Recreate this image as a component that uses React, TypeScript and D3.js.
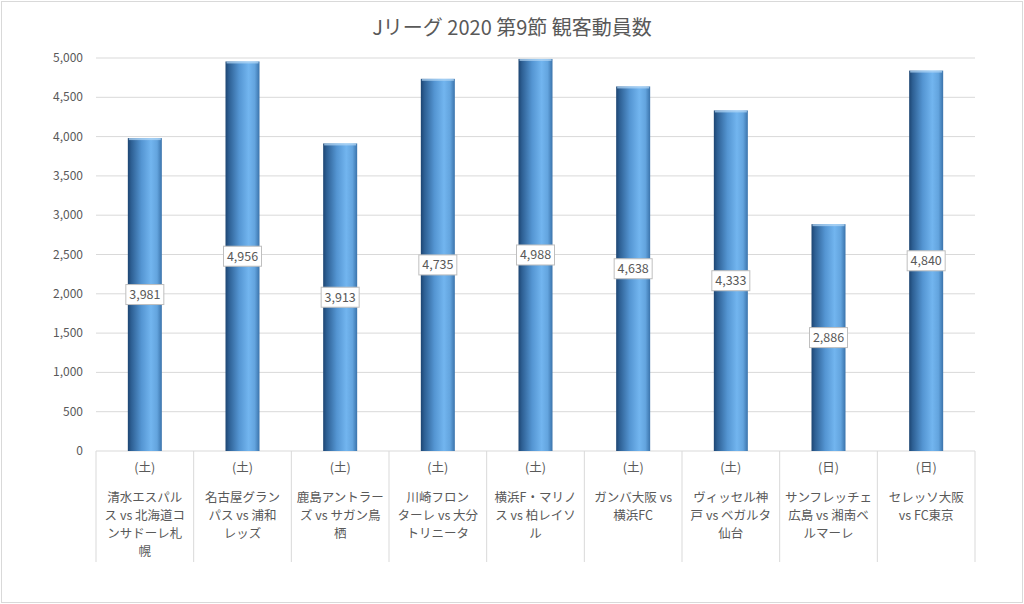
import React, { useRef, useEffect } from 'react';
import * as d3 from 'd3';

const title = 'Jリーグ 2020 第9節 観客動員数';
const days = ['(土)', '(土)', '(土)', '(土)', '(土)', '(土)', '(土)', '(日)', '(日)'];
const matchLines = [
    ['清水エスパル', 'ス vs 北海道コ', 'ンサドーレ札', '幌'],
    ['名古屋グラン', 'パス vs 浦和', 'レッズ'],
    ['鹿島アントラー', 'ズ vs サガン鳥', '栖'],
    ['川崎フロン', 'ターレ vs 大分', 'トリニータ'],
    ['横浜F・マリノ', 'ス vs 柏レイソ', 'ル'],
    ['ガンバ大阪 vs', '横浜FC'],
    ['ヴィッセル神', '戸 vs ベガルタ', '仙台'],
    ['サンフレッチェ', '広島 vs 湘南ベ', 'ルマーレ'],
    ['セレッソ大阪', 'vs FC東京'],
];
const attendance = [3981, 4956, 3913, 4735, 4988, 4638, 4333, 2886, 4840];
const yTicks = [0, 500, 1000, 1500, 2000, 2500, 3000, 3500, 4000, 4500, 5000];

export default function App() {
    const svg_ref = useRef(null);

    useEffect(() => {
        const width = 1024;
        const height = 604;
        const margin = { left: 96, right: 49, top: 58, bottom: 153 };
        const font = '"Noto Sans CJK JP", "Noto Sans", sans-serif';
        const text_color = '#595959';

        const svg = d3.select(svg_ref.current);
        svg.selectAll('*').remove();

        const defs = svg.append('defs');
        const grad = defs.append('linearGradient').attr('id', 'bar_grad').attr('x1', '0%').attr('x2', '100%');
        [
            ['0%', '#1d4572'],
            ['10%', '#2d5f93'],
            ['40%', '#5495d2'],
            ['68%', '#72b5ef'],
            ['86%', '#63a4de'],
            ['100%', '#3a73ab'],
        ].forEach(([o, c]) => grad.append('stop').attr('offset', o).attr('stop-color', c));

        svg.append('rect')
            .attr('x', 1.5).attr('y', 1.5)
            .attr('width', width - 3).attr('height', height - 3)
            .attr('fill', '#ffffff').attr('stroke', '#d9d9d9');

        svg.append('text')
            .attr('x', 512).attr('y', 35)
            .attr('text-anchor', 'middle')
            .attr('font-family', font).attr('font-size', 20)
            .attr('fill', text_color)
            .text(title);

        const x = d3.scaleBand()
            .domain(d3.range(attendance.length).map(String))
            .range([margin.left, width - margin.right]);
        const y = d3.scaleLinear([0, 5000], [height - margin.bottom, margin.top]);

        // gridlines
        svg.append('g')
            .selectAll('line')
            .data(yTicks.filter((d) => d > 0))
            .join('line')
            .attr('x1', margin.left).attr('x2', width - margin.right)
            .attr('y1', (d) => y(d)).attr('y2', (d) => y(d))
            .attr('stroke', '#d9d9d9').attr('stroke-width', 1);

        // y tick labels
        svg.append('g')
            .selectAll('text')
            .data(yTicks)
            .join('text')
            .attr('x', 83).attr('y', (d) => y(d) + 4)
            .attr('text-anchor', 'end')
            .attr('font-family', font).attr('font-size', 12)
            .attr('fill', text_color)
            .text((d) => d3.format(',')(d));

        // category separators
        const bounds = d3.range(attendance.length + 1).map((i) => margin.left + i * x.step());
        svg.append('g')
            .selectAll('line')
            .data(bounds)
            .join('line')
            .attr('x1', (d) => d).attr('x2', (d) => d)
            .attr('y1', y(0)).attr('y2', 562)
            .attr('stroke', '#d9d9d9');

        svg.append('line')
            .attr('x1', margin.left).attr('x2', width - margin.right)
            .attr('y1', y(0)).attr('y2', y(0))
            .attr('stroke', '#d9d9d9');

        // bars
        const bar_w = 34;
        const bars = svg.append('g')
            .selectAll('g')
            .data(attendance)
            .join('g')
            .attr('transform', (_, i) => `translate(${x(String(i)) + x.bandwidth() / 2},0)`);

        bars.append('rect')
            .attr('x', -bar_w / 2).attr('y', (d) => y(d))
            .attr('width', bar_w).attr('height', (d) => y(0) - y(d))
            .attr('fill', 'url(#bar_grad)');

        bars.append('rect')
            .attr('x', -bar_w / 2 + 1).attr('y', (d) => y(d))
            .attr('width', bar_w - 2).attr('height', 2)
            .attr('fill', '#b5d8f6').attr('opacity', 0.7);

        // data labels
        const lab = bars.append('g')
            .attr('transform', (d) => `translate(0,${y(d / 2)})`);
        lab.append('rect')
            .attr('x', -19).attr('y', -10)
            .attr('width', 38).attr('height', 20)
            .attr('fill', '#ffffff').attr('stroke', '#bfbfbf');
        lab.append('text')
            .attr('text-anchor', 'middle').attr('y', 4.5)
            .attr('font-family', font).attr('font-size', 12.5)
            .attr('fill', text_color)
            .text((d) => d3.format(',')(d));

        // category labels
        const cat = svg.append('g')
            .selectAll('g')
            .data(attendance.map((_, i) => i))
            .join('g')
            .attr('transform', (i) => `translate(${x(String(i)) + x.bandwidth() / 2},0)`);
        cat.append('text')
            .attr('y', 472)
            .attr('text-anchor', 'middle')
            .attr('font-family', font).attr('font-size', 12.5)
            .attr('fill', text_color)
            .text((i) => days[i]);
        cat.each(function (i) {
            d3.select(this)
                .selectAll('text.m')
                .data(matchLines[i])
                .join('text')
                .attr('class', 'm')
                .attr('y', (_, j) => 502 + j * 18)
                .attr('text-anchor', 'middle')
                .attr('font-family', font).attr('font-size', 12.5)
                .attr('fill', text_color)
                .text((t) => t);
        });
    }, []);

    return (
        <svg ref={svg_ref} width={1024} height={604} style={{ position: 'absolute', left: 0, top: 0 }}></svg>
    );
}
